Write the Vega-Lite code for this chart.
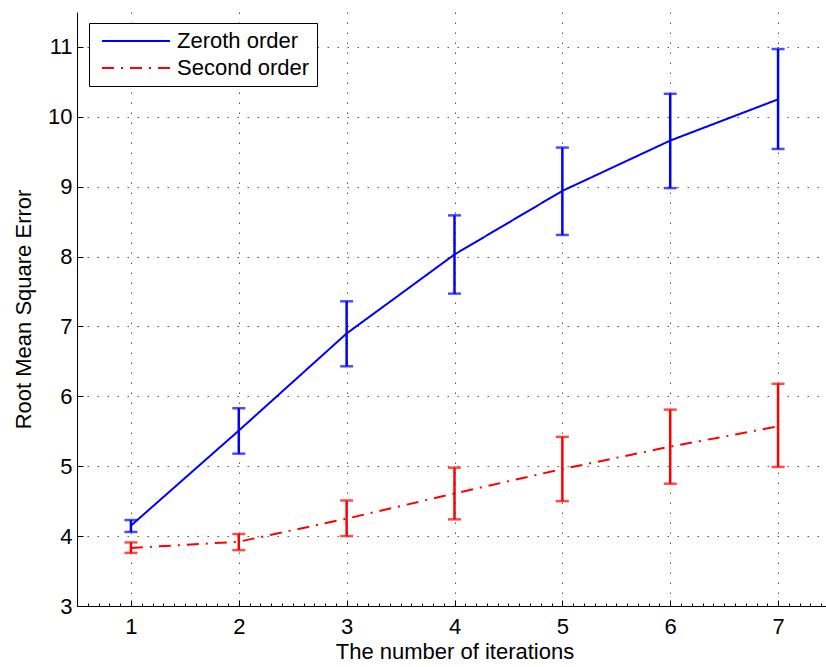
{
  "$schema": "https://vega.github.io/schema/vega-lite/v6.json",
  "width": 755,
  "height": 594,
  "autosize": {"type": "none"},
  "padding": {"left": 77, "top": 12, "right": -6, "bottom": 61},
  "background": "white",
  "config": {
    "view": {"stroke": null},
    "font": "Liberation Sans",
    "axis": {
      "labelFont": "Liberation Sans",
      "titleFont": "Liberation Sans",
      "labelFontSize": 22,
      "titleFontSize": 22,
      "titleFontWeight": "normal",
      "labelColor": "#000000",
      "titleColor": "#000000",
      "domainColor": "#000000",
      "domainWidth": 1,
      "tickColor": "#000000",
      "tickWidth": 1,
      "gridColor": "#555555",
      "gridDash": [1.5, 8.5],
      "gridWidth": 1
    },
    "legend": {
      "orient": "none",
      "legendX": 12,
      "legendY": 11,
      "padding": 7,
      "rowPadding": 5,
      "labelFont": "Liberation Sans",
      "labelFontSize": 22,
      "labelColor": "#000000",
      "strokeColor": "#000000",
      "fillColor": "#ffffff",
      "symbolSize": 100,
      "symbolStrokeWidth": 2,
      "symbolOffset": 29,
      "labelOffset": 30
    }
  },
  "data": {
    "values": [
      {"iter": 1, "series": "Zeroth order", "rmse": 4.15, "lo": 4.06, "hi": 4.23},
      {"iter": 2, "series": "Zeroth order", "rmse": 5.51, "lo": 5.18, "hi": 5.83},
      {"iter": 3, "series": "Zeroth order", "rmse": 6.90, "lo": 6.43, "hi": 7.36},
      {"iter": 4, "series": "Zeroth order", "rmse": 8.03, "lo": 7.47, "hi": 8.59},
      {"iter": 5, "series": "Zeroth order", "rmse": 8.94, "lo": 8.31, "hi": 9.56},
      {"iter": 6, "series": "Zeroth order", "rmse": 9.66, "lo": 8.98, "hi": 10.33},
      {"iter": 7, "series": "Zeroth order", "rmse": 10.25, "lo": 9.54, "hi": 10.97},
      {"iter": 1, "series": "Second order", "rmse": 3.83, "lo": 3.76, "hi": 3.91},
      {"iter": 2, "series": "Second order", "rmse": 3.92, "lo": 3.80, "hi": 4.03},
      {"iter": 3, "series": "Second order", "rmse": 4.25, "lo": 4.00, "hi": 4.51},
      {"iter": 4, "series": "Second order", "rmse": 4.61, "lo": 4.24, "hi": 4.98},
      {"iter": 5, "series": "Second order", "rmse": 4.96, "lo": 4.50, "hi": 5.42},
      {"iter": 6, "series": "Second order", "rmse": 5.28, "lo": 4.75, "hi": 5.81},
      {"iter": 7, "series": "Second order", "rmse": 5.57, "lo": 4.99, "hi": 6.18}
    ]
  },
  "resolve": {"axis": {"x": "independent"}},
  "layer": [
    {
      "mark": {"type": "line", "strokeWidth": 2, "clip": true},
      "encoding": {
        "x": {
          "field": "iter",
          "type": "quantitative",
          "scale": {"domain": [0.5, 7.5], "nice": false, "zero": false},
          "axis": {
            "orient": "bottom",
            "title": "The number of iterations",
            "values": [1, 2, 3, 4, 5, 6, 7],
            "tickSize": -6,
            "labelPadding": 16.5,
            "titlePadding": 4,
            "grid": true
          }
        },
        "y": {
          "field": "rmse",
          "type": "quantitative",
          "scale": {"domain": [3, 11.5], "nice": false, "zero": false},
          "axis": {
            "title": "Root Mean Square Error",
            "values": [3, 4, 5, 6, 7, 8, 9, 10, 11],
            "tickSize": -6,
            "labelPadding": 11,
            "titlePadding": 12,
            "grid": true
          }
        },
        "color": {
          "field": "series",
          "type": "nominal",
          "scale": {"domain": ["Zeroth order", "Second order"], "range": ["#0000ff", "#ff0000"]},
          "legend": {"title": null, "symbolType": "M-6.8,0H6.8"}
        },
        "strokeDash": {
          "field": "series",
          "type": "nominal",
          "scale": {"domain": ["Zeroth order", "Second order"], "range": [[1, 0], [12, 7, 2, 7]]},
          "legend": {"title": null, "symbolType": "M-6.8,0H6.8"}
        }
      }
    },
    {
      "mark": {"type": "errorbar", "ticks": {"size": 13, "thickness": 2.5}, "thickness": 2.5},
      "encoding": {
        "x": {
          "field": "iter",
          "type": "quantitative",
          "axis": {
            "orient": "bottom",
            "title": null,
            "values": [0.6, 0.7, 0.8, 0.9, 1.1, 1.2, 1.3, 1.4, 1.5, 1.6, 1.7, 1.8, 1.9, 2.1, 2.2, 2.3, 2.4, 2.5, 2.6, 2.7, 2.8, 2.9, 3.1, 3.2, 3.3, 3.4, 3.5, 3.6, 3.7, 3.8, 3.9, 4.1, 4.2, 4.3, 4.4, 4.5, 4.6, 4.7, 4.8, 4.9, 5.1, 5.2, 5.3, 5.4, 5.5, 5.6, 5.7, 5.8, 5.9, 6.1, 6.2, 6.3, 6.4, 6.5, 6.6, 6.7, 6.8, 6.9, 7.1, 7.2, 7.3, 7.4],
            "labels": false,
            "domain": false,
            "grid": false,
            "tickSize": -3
          }
        },
        "y": {
          "field": "lo",
          "type": "quantitative",
          "axis": {
            "title": "Root Mean Square Error",
            "values": [3, 4, 5, 6, 7, 8, 9, 10, 11],
            "tickSize": -6,
            "labelPadding": 11,
            "titlePadding": 12,
            "grid": true
          }
        },
        "y2": {"field": "hi"},
        "color": {"field": "series", "type": "nominal", "legend": null}
      }
    }
  ]
}
